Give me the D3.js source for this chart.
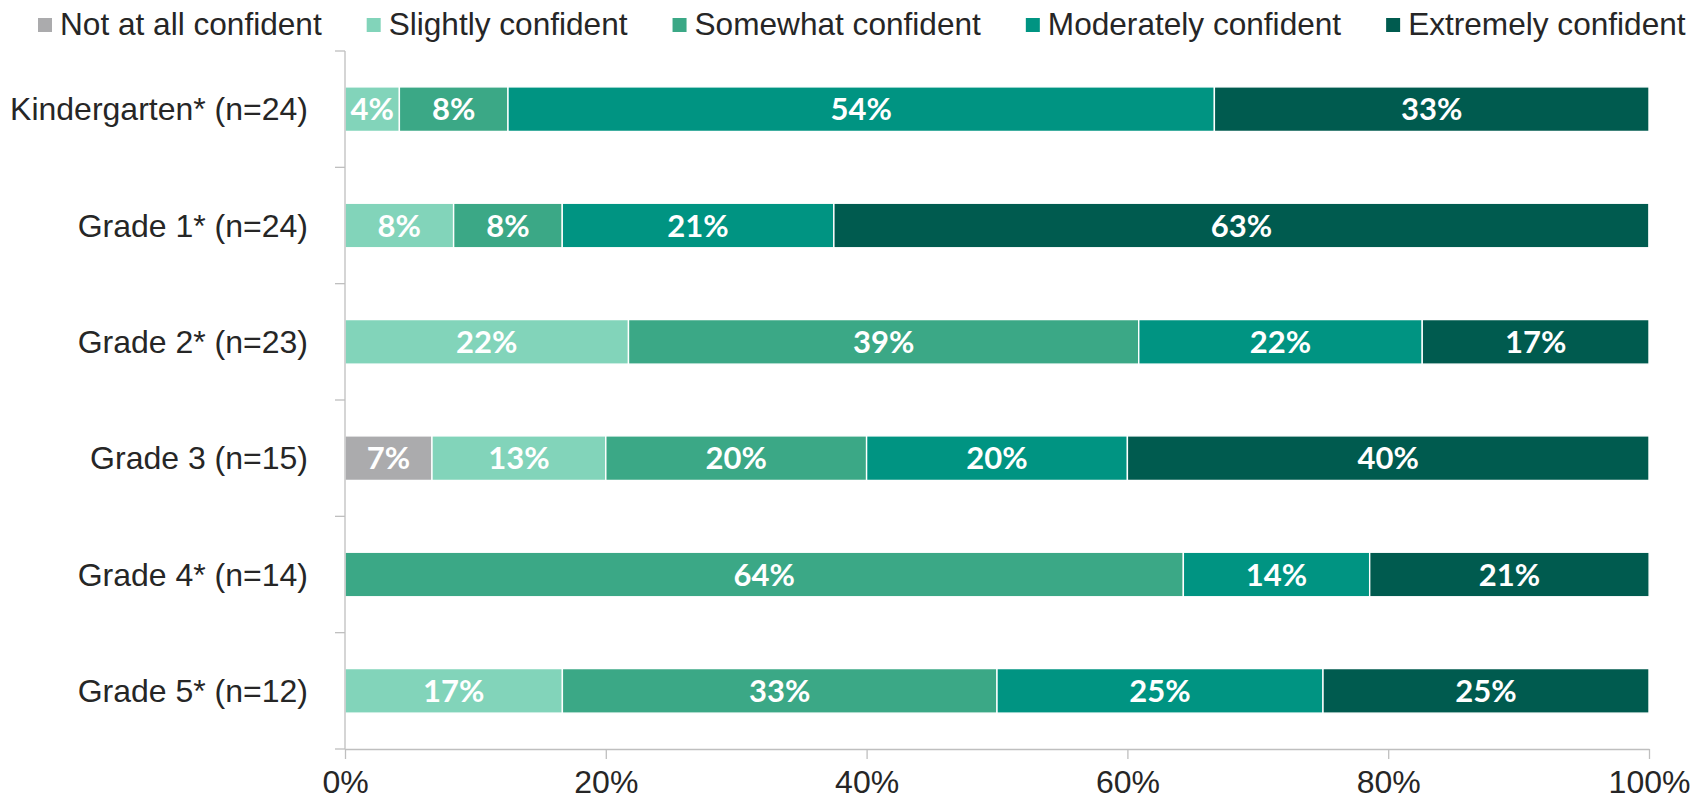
<!DOCTYPE html>
<html>
<head>
<meta charset="utf-8">
<script src="https://cdn.jsdelivr.net/npm/d3@7"></script>
<style>
  html, body { margin: 0; padding: 0; background: #ffffff; }
  svg { display: block; }
</style>
</head>
<body>
<svg id="chart" width="1698" height="802"></svg>
<script>
// Grade levels, top to bottom
const grades = [
  "Kindergarten* (n=24)",
  "Grade 1* (n=24)",
  "Grade 2* (n=23)",
  "Grade 3 (n=15)",
  "Grade 4* (n=14)",
  "Grade 5* (n=12)"
];

// Confidence levels, left to right
const levels = [
  "Not at all confident",
  "Slightly confident",
  "Somewhat confident",
  "Moderately confident",
  "Extremely confident"
];

// Percent of respondents per level, one array per level (same order as grades)
const notAtAll   = [0,     0,     0,     6.67,  0,     0];
const slightly   = [4.17,  8.33,  21.74, 13.33, 0,     16.67];
const somewhat   = [8.33,  8.33,  39.13, 20.00, 64.29, 33.33];
const moderately = [54.17, 20.83, 21.74, 20.00, 14.29, 25.00];
const extremely  = [33.33, 62.50, 17.39, 40.00, 21.43, 25.00];

const xTicks = [0, 20, 40, 60, 80, 100];

const colors = ["#ABABAD", "#82D4BA", "#3BA886", "#009482", "#005B4F"];

const series = [notAtAll, slightly, somewhat, moderately, extremely];

// Rows for d3.stack
const rows = grades.map((g, i) => {
  const r = { grade: g };
  levels.forEach((l, j) => { r[l] = series[j][i]; });
  return r;
});

const stacked = d3.stack().keys(levels)(rows);

const svg = d3.select("#chart");
const plot = { left: 345, right: 1649, top: 51, bottom: 749 };

const x = d3.scaleLinear().domain([0, 100]).range([plot.left, plot.right]);
const y = d3.scaleBand().domain(grades).range([plot.top, plot.bottom])
  .paddingInner(0.617).paddingOuter(0.3085);

const color = d3.scaleOrdinal().domain(levels).range(colors);

const axisColor = "#BFBFBF";
const textColor = "#262626";
const labelFont = "'Liberation Sans', Arial, sans-serif";

// Bars
const layer = svg.append("g").selectAll("g")
  .data(stacked).join("g")
  .attr("fill", d => color(d.key));

layer.selectAll("rect")
  .data(d => d.filter(s => s[1] - s[0] > 0))
  .join("rect")
  .attr("x", d => x(d[0]))
  .attr("y", d => y(d.data.grade))
  .attr("width", d => x(d[1]) - x(d[0]))
  .attr("height", y.bandwidth())
  .attr("stroke", "#ffffff")
  .attr("stroke-width", 1.4);

// Value labels inside the segments
layer.selectAll("text")
  .data(d => d.filter(s => s[1] - s[0] > 0))
  .join("text")
  .attr("x", d => (x(d[0]) + x(d[1])) / 2)
  .attr("y", d => y(d.data.grade) + y.bandwidth() / 2)
  .attr("dy", "0.36em")
  .attr("text-anchor", "middle")
  .attr("fill", "#ffffff")
  .style("font-family", "Lato, sans-serif")
  .style("font-weight", "700")
  .style("font-size", "31px")
  .text(d => Math.round(d[1] - d[0]) + "%");

// Y axis: vertical line with ticks at band boundaries
const yAxis = svg.append("g");
yAxis.append("line")
  .attr("x1", plot.left).attr("x2", plot.left)
  .attr("y1", plot.top).attr("y2", plot.bottom)
  .attr("stroke", axisColor).attr("stroke-width", 1.3);
const boundaries = grades.map(g => y(g) - y.step() * y.paddingInner() / 2).concat([plot.bottom]);
yAxis.selectAll("line.tick")
  .data(boundaries).join("line")
  .attr("class", "tick")
  .attr("x1", plot.left - 10).attr("x2", plot.left)
  .attr("y1", d => d).attr("y2", d => d)
  .attr("stroke", axisColor).attr("stroke-width", 1.3);

// Category labels
svg.append("g").selectAll("text")
  .data(grades).join("text")
  .attr("x", 308)
  .attr("y", d => y(d) + y.bandwidth() / 2)
  .attr("dy", "0.35em")
  .attr("text-anchor", "end")
  .attr("fill", textColor)
  .style("font-family", labelFont)
  .style("font-size", "32px")
  .text(d => d);

// X axis
const xAxis = svg.append("g")
  .attr("transform", `translate(0,${plot.bottom})`)
  .call(d3.axisBottom(x).tickValues(xTicks).tickSize(10).tickSizeOuter(0)
    .tickFormat(d => d + "%"));
xAxis.select(".domain").attr("stroke", axisColor).attr("stroke-width", 1.3);
xAxis.selectAll(".tick line").attr("stroke", axisColor).attr("stroke-width", 1.3);
xAxis.selectAll(".tick text")
  .attr("y", 33)
  .attr("dy", "0.35em")
  .attr("fill", textColor)
  .style("font-family", labelFont)
  .style("font-size", "32px");

// Legend
const legend = svg.append("g");
let lx = 38;
levels.forEach((l, i) => {
  const item = legend.append("g");
  item.append("rect")
    .attr("x", lx).attr("y", 18)
    .attr("width", 14).attr("height", 14)
    .attr("fill", colors[i]);
  const t = item.append("text")
    .attr("x", lx + 22).attr("y", 35)
    .attr("fill", textColor)
    .style("font-family", labelFont)
    .style("font-size", "31.6px")
    .text(l);
  lx += 22 + t.node().getComputedTextLength() + 45;
});
</script>
</body>
</html>
